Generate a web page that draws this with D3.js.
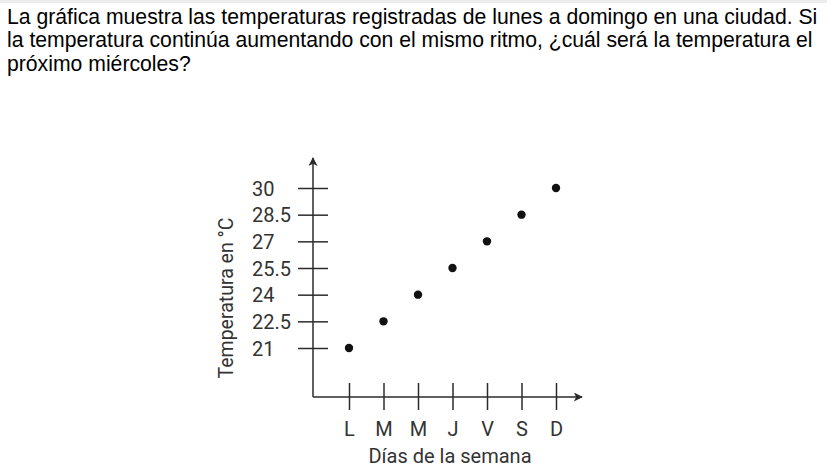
<!DOCTYPE html>
<html>
<head>
<meta charset="utf-8">
<script src="https://cdn.jsdelivr.net/npm/d3@7"></script>
<style>
    body { margin: 0; background: #fff; }
    svg { display: block; }
</style>
</head>
<body>
<div class="chart-container"></div>
<script>
// chart data
const questionLines = [
    'La gráfica muestra las temperaturas registradas de lunes a domingo en una ciudad. Si',
    'la temperatura continúa aumentando con el mismo ritmo, ¿cuál será la temperatura el',
    'próximo miércoles?'
];
const days = ['L', 'M', 'M', 'J', 'V', 'S', 'D'];
const temperatures = [21, 22.5, 24, 25.5, 27, 28.5, 30];
const yTicks = [21, 22.5, 24, 25.5, 27, 28.5, 30];
const xTitle = 'Días de la semana';
const yTitle = 'Temperatura en °C';

const width = 827;
const height = 471;

const points = days.map((d, i) => ({ key: i, label: d, value: temperatures[i] }));

// scales
const xScale = d3
    .scalePoint()
    .domain(points.map(d => d.key))
    .range([349, 556]);

const yScale = d3
    .scaleLinear()
    .domain([21, 30])
    .range([348, 188]);

const axisX = 313; // where the vertical axis sits
const axisY = 397; // where the horizontal axis sits
const ink = '#2b2b2b';

const svg = d3.select('.chart-container')
    .append('svg')
    .attr('width', width)
    .attr('height', height);

// thin strip left over at the top of the screenshot
svg.append('rect')
    .attr('x', 0).attr('y', 0)
    .attr('width', width).attr('height', 3)
    .attr('fill', '#ececec');

// question text
svg.append('g')
    .attr('class', 'question')
    .selectAll('text')
    .data(questionLines)
    .enter()
        .append('text')
        .attr('x', 7)
        .attr('y', (d, i) => 24 + i * 23.3)
        .text(d => d)
        .style('font-family', '"Liberation Sans", Arial, sans-serif')
        .style('font-size', '21.2px')
        .style('fill', '#000');

const chart = svg.append('g')
    .attr('class', 'chart')
    .style('font-family', 'Roboto, sans-serif');

// y axis ticks (cross the axis line)
const yAxis = d3
    .axisLeft(yScale)
    .tickValues(yTicks)
    .tickFormat(d3.format('~'))
    .tickSize(-30);

const yAxisDraw = chart.append('g')
    .attr('class', 'y axis')
    .attr('transform', `translate(${axisX - 15}, 0)`)
    .call(yAxis);

yAxisDraw.select('.domain').remove();
yAxisDraw.selectAll('line').attr('stroke', ink).attr('stroke-width', 1.5);
yAxisDraw.selectAll('text')
    .attr('x', 252 - (axisX - 15))
    .attr('dy', '0.35em')
    .style('text-anchor', 'start')
    .style('font-family', 'Roboto, sans-serif')
    .style('font-size', '20px')
    .style('fill', '#333');

// x axis ticks (cross the axis line)
const xAxis = d3
    .axisBottom(xScale)
    .tickFormat(k => points[k].label)
    .tickSize(27);

const xAxisDraw = chart.append('g')
    .attr('class', 'x axis')
    .attr('transform', `translate(0, ${axisY - 14})`)
    .call(xAxis);

xAxisDraw.select('.domain').remove();
xAxisDraw.selectAll('line').attr('stroke', ink).attr('stroke-width', 1.5);
xAxisDraw.selectAll('text')
    .attr('y', 436 - (axisY - 14))
    .attr('dy', 0)
    .style('font-family', 'Roboto, sans-serif')
    .style('font-size', '20px')
    .style('fill', '#333');

// axis lines with arrow heads
const defs = svg.append('defs');
defs.append('marker')
    .attr('id', 'arrow')
    .attr('viewBox', '0 0 10 10')
    .attr('refX', 9)
    .attr('refY', 5)
    .attr('markerUnits', 'userSpaceOnUse')
    .attr('markerWidth', 12)
    .attr('markerHeight', 9)
    .attr('orient', 'auto')
    .append('path')
    .attr('d', 'M0,0 L10,5 L0,10 L2.5,5 Z')
    .attr('fill', ink);

chart.append('line')
    .attr('x1', axisX).attr('y1', axisY)
    .attr('x2', axisX).attr('y2', 158)
    .attr('stroke', ink)
    .attr('stroke-width', 1.5)
    .attr('marker-end', 'url(#arrow)');

chart.append('line')
    .attr('x1', axisX).attr('y1', axisY)
    .attr('x2', 582).attr('y2', axisY)
    .attr('stroke', ink)
    .attr('stroke-width', 1.5)
    .attr('marker-end', 'url(#arrow)');

// data points
chart.append('g')
    .attr('class', 'dots')
    .selectAll('circle')
    .data(points)
    .enter()
        .append('circle')
        .attr('cx', d => xScale(d.key))
        .attr('cy', d => yScale(d.value))
        .attr('r', 4.2)
        .attr('fill', '#111');

// axis titles
chart.append('text')
    .attr('x', 450)
    .attr('y', 463)
    .text(xTitle)
    .style('text-anchor', 'middle')
    .style('font-size', '20px')
    .style('fill', '#333');

chart.append('text')
    .attr('transform', 'translate(233, 298) rotate(-90)')
    .text(yTitle)
    .style('text-anchor', 'middle')
    .style('font-size', '19.5px')
    .style('fill', '#333');
</script>
</body>
</html>
